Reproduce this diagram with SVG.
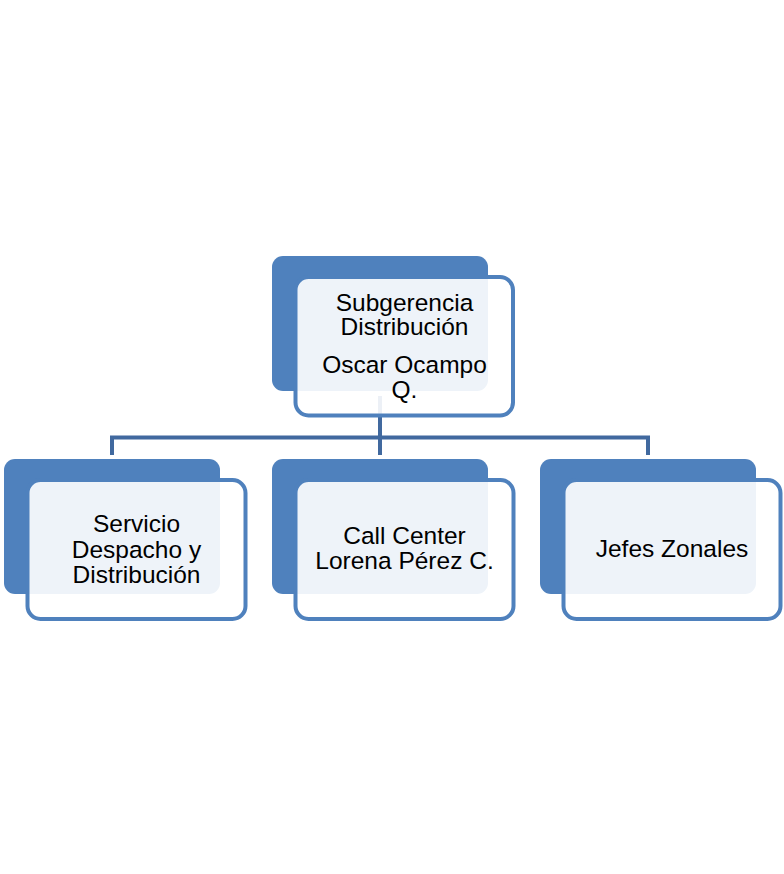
<svg xmlns="http://www.w3.org/2000/svg" width="784" height="874" viewBox="0 0 784 874">
<style>
.back{fill:#4F81BD;}
.front{fill:#FFFFFF;fill-opacity:0.9;stroke:#4F81BD;stroke-width:4;}
.conn{fill:none;stroke:#41699F;stroke-width:4;}
.lbl{font-family:"Liberation Sans",Arial,sans-serif;font-size:24.5px;fill:#000000;text-anchor:middle;}
</style>
<rect width="784" height="874" fill="#FFFFFF"/>
<g id="connectors">
<path class="conn" d="M380,396 V455"/>
<path class="conn" d="M112,455 V437.5 H648 V455"/>
</g>
<g id="node-subgerencia">
<rect class="back" x="272" y="256" width="216" height="135" rx="11"/>
<rect class="front" x="295.5" y="277" width="217.5" height="138.5" rx="13"/>
<text class="lbl" x="404.5" y="311">Subgerencia</text>
<text class="lbl" x="404.5" y="335">Distribución</text>
<text class="lbl" x="404.5" y="373">Oscar Ocampo</text>
<text class="lbl" x="404.5" y="398">Q.</text>
</g>
<g id="node-servicio">
<rect class="back" x="4" y="459" width="216" height="135" rx="11"/>
<rect class="front" x="27.5" y="480" width="218" height="139" rx="13"/>
<text class="lbl" x="136.5" y="532">Servicio</text>
<text class="lbl" x="136.5" y="558">Despacho y</text>
<text class="lbl" x="136.5" y="583">Distribución</text>
</g>
<g id="node-callcenter">
<rect class="back" x="272" y="459" width="216" height="135" rx="11"/>
<rect class="front" x="295.5" y="480" width="218" height="139" rx="13"/>
<text class="lbl" x="404.5" y="544">Call Center</text>
<text class="lbl" x="404.5" y="569">Lorena Pérez C.</text>
</g>
<g id="node-jefes">
<rect class="back" x="540" y="459" width="216" height="135" rx="11"/>
<rect class="front" x="563.5" y="480" width="217" height="139" rx="13"/>
<text class="lbl" x="672" y="557">Jefes Zonales</text>
</g>
</svg>
